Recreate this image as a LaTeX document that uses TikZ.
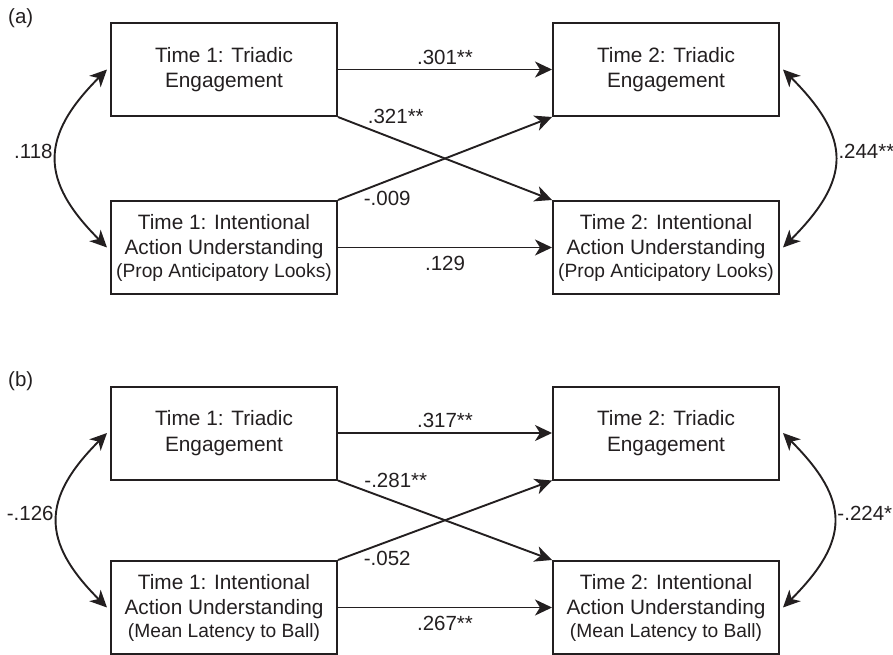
\documentclass[tikz,border=0pt]{standalone}
\usepackage{fontspec}
\setmainfont{Liberation Sans}
\usetikzlibrary{arrows.meta, calc}
\definecolor{ink}{RGB}{35,31,32}

\begin{document}
\begin{tikzpicture}[x=1pt, y=1pt, ink,
    var/.style={draw, line width=2pt, minimum width=226pt, minimum height=93pt,
                inner sep=0pt, align=center, font=\fontsize{20.8}{25.5}\selectfont},
    reg/.style={line width=1.9pt, -{Stealth[length=17pt, width=16pt, inset=5pt]}},
    cov/.style={line width=1.9pt, {Stealth[length=17pt, width=16pt, inset=5pt]}-{Stealth[length=17pt, width=16pt, inset=5pt]}},
    coef/.style={inner sep=1pt, font=\fontsize{20.5}{24}\selectfont}]
\useasboundingbox (0,0) rectangle (893,-655);

% (a)
\node[coef, anchor=west] (taga) at (7,-18) {(a)};
\node[var] (a11) at (224,-69.5) {Time 1: Triadic\\Engagement};
\node[var] (a21) at (666,-69.5) {Time 2: Triadic\\Engagement};
\node[var] (a12) at (224,-247.5) {Time 1: Intentional\\Action Understanding\\[-3pt]{\fontsize{19.2}{22}\selectfont (Prop Anticipatory Looks)}};
\node[var] (a22) at (666,-247.5) {Time 2: Intentional\\Action Understanding\\[-3pt]{\fontsize{19.2}{22}\selectfont (Prop Anticipatory Looks)}};

\draw[reg] (a11) -- node[coef, above=3pt] {.301**} (a21);
\draw[reg] (a12) -- node[coef, below=7pt] {.129} (a22);
\draw[reg] (a11.south east) -- node[coef, pos=0.27, above=14pt] {.321**} (a22.north west);
\draw[reg] (a12.north east) -- node[coef, pos=0.23, below=8pt] {-.009} (a21.south west);
\draw[cov] ([xshift=-3pt]a11.west) to[out=225, in=135, looseness=1.37]
    node[coef, left=2pt, yshift=7pt] {.118} ([xshift=-3pt]a12.west);
\draw[cov] ([xshift=3pt]a21.east) to[out=-45, in=45, looseness=1.4]
    node[coef, right=2pt, yshift=7pt] {.244**} ([xshift=3pt]a22.east);

% (b)
\node[coef, anchor=west] (tagb) at (7,-381) {(b)};
\node[var] (b11) at (224,-433) {Time 1: Triadic\\Engagement};
\node[var] (b21) at (666,-433) {Time 2: Triadic\\Engagement};
\node[var] (b12) at (224,-607.5) {Time 1: Intentional\\Action Understanding\\[-3pt]{\fontsize{19.2}{22}\selectfont (Mean Latency to Ball)}};
\node[var] (b22) at (666,-607.5) {Time 2: Intentional\\Action Understanding\\[-3pt]{\fontsize{19.2}{22}\selectfont (Mean Latency to Ball)}};

\draw[reg] (b11) -- node[coef, above=3pt] {.317**} (b21);
\draw[reg] (b12) -- node[coef, below=7pt] {.267**} (b22);
\draw[reg] (b11.south east) -- node[coef, pos=0.27, above=12pt] {-.281**} (b22.north west);
\draw[reg] (b12.north east) -- node[coef, pos=0.23, below=8pt] {-.052} (b21.south west);
\draw[cov] ([xshift=-3pt]b11.west) to[out=225, in=135, looseness=1.37]
    node[coef, left=2pt, yshift=7pt] {-.126} ([xshift=-3pt]b12.west);
\draw[cov] ([xshift=3pt]b21.east) to[out=-45, in=45, looseness=1.4]
    node[coef, right=2pt, yshift=7pt] {-.224*} ([xshift=3pt]b22.east);
\end{tikzpicture}
\end{document}
